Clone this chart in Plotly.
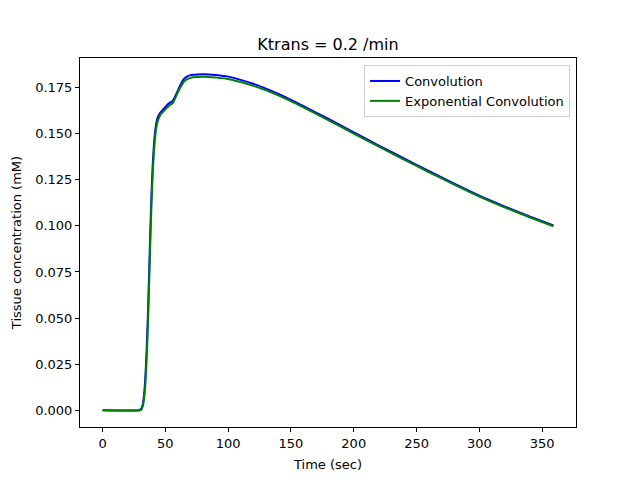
import plotly.graph_objects as go

t_conv = [0, 29, 30, 31, 32, 33, 34, 35, 36, 37, 38, 39, 40, 41, 42, 43, 44, 46, 48, 50, 52, 54, 56, 58, 60,
          62, 64, 66, 68, 70, 72, 75, 80, 85, 90, 100, 120, 140, 160, 180, 200, 220, 240, 260, 280, 300,
          320, 340, 359]
c_conv = [0, 0, 0.0003, 0.001, 0.003, 0.008, 0.017, 0.031, 0.050, 0.073, 0.097, 0.118, 0.134, 0.145, 0.152,
          0.1565, 0.159, 0.1615, 0.163, 0.1645, 0.166, 0.167, 0.168, 0.1705, 0.1735, 0.1765, 0.179, 0.1805,
          0.1813, 0.1818, 0.182, 0.1822, 0.1823, 0.1822, 0.1819, 0.1810, 0.1771, 0.1716, 0.1650, 0.1580,
          0.1508, 0.1436, 0.1366, 0.1297, 0.1229, 0.1164, 0.1106, 0.1051, 0.1002]

t_exp = [0, 30, 31, 32, 33, 34, 35, 36, 37, 38, 39, 40, 41, 42, 43, 44, 46, 48, 50, 52, 54, 56, 58, 60,
         62, 64, 66, 68, 70, 72, 75, 80, 85, 90, 100, 120, 140, 160, 180, 200, 220, 240, 260, 280, 300,
         320, 340, 359]
c_exp = [0, 0, 0.0005, 0.002, 0.006, 0.013, 0.026, 0.043, 0.066, 0.090, 0.112, 0.129, 0.141, 0.149, 0.154,
         0.157, 0.1602, 0.1618, 0.1633, 0.1647, 0.1657, 0.1667, 0.1695, 0.1725, 0.1752, 0.1775, 0.179,
         0.1798, 0.1803, 0.1806, 0.1808, 0.1809, 0.1808, 0.1805, 0.1797, 0.1760, 0.1708, 0.1643, 0.1573,
         0.1501, 0.1430, 0.1360, 0.1291, 0.1224, 0.1159, 0.1101, 0.1047, 0.0998]

x_ticks = [0, 50, 100, 150, 200, 250, 300, 350]
y_ticks = [0.0, 0.025, 0.05, 0.075, 0.1, 0.125, 0.15, 0.175]

font = "DejaVu Sans, sans-serif"

fig = go.Figure()
fig.add_trace(go.Scatter(x=t_conv, y=c_conv, mode="lines", name="Convolution",
                         line=dict(color="blue", width=2, shape="spline", smoothing=0.5)))
fig.add_trace(go.Scatter(x=t_exp, y=c_exp, mode="lines", name="Exponential Convolution",
                         line=dict(color="green", width=2, shape="spline", smoothing=0.5)))

axis_common = dict(showline=True, linecolor="black", linewidth=1, mirror=True,
                   ticks="outside", ticklen=4, tickcolor="black", showgrid=False, zeroline=False,
                   tickfont=dict(family=font, size=13, color="black"))

fig.update_layout(
    width=640, height=480,
    margin=dict(l=72, r=72, t=50, b=61, autoexpand=False),
    paper_bgcolor="white", plot_bgcolor="white",
    font=dict(family=font, size=13, color="black"),
    title=dict(text="Ktrans = 0.2 /min", x=0.5, xanchor="center", y=1 - 36 / 480, yanchor="middle",
               font=dict(family=font, size=16, color="black")),
    xaxis=dict(range=[-17.95, 376.95], tickvals=x_ticks, automargin=False,
               title=dict(text="Time (sec)", font=dict(family=font, size=13), standoff=10), **axis_common),
    yaxis=dict(range=[-0.0091, 0.1911], tickvals=y_ticks, tickformat=".3f", automargin=False,
               title=dict(text="Tissue concentration (mM)", font=dict(family=font, size=13), standoff=10),
               **axis_common),
    legend=dict(x=0.988, y=0.981, xanchor="right", yanchor="top", bgcolor="rgba(255,255,255,0.8)",
                bordercolor="#cccccc", borderwidth=1, font=dict(family=font, size=13),
                tracegroupgap=0, itemwidth=30),
    showlegend=True,
)

fig.write_html("out.html")
